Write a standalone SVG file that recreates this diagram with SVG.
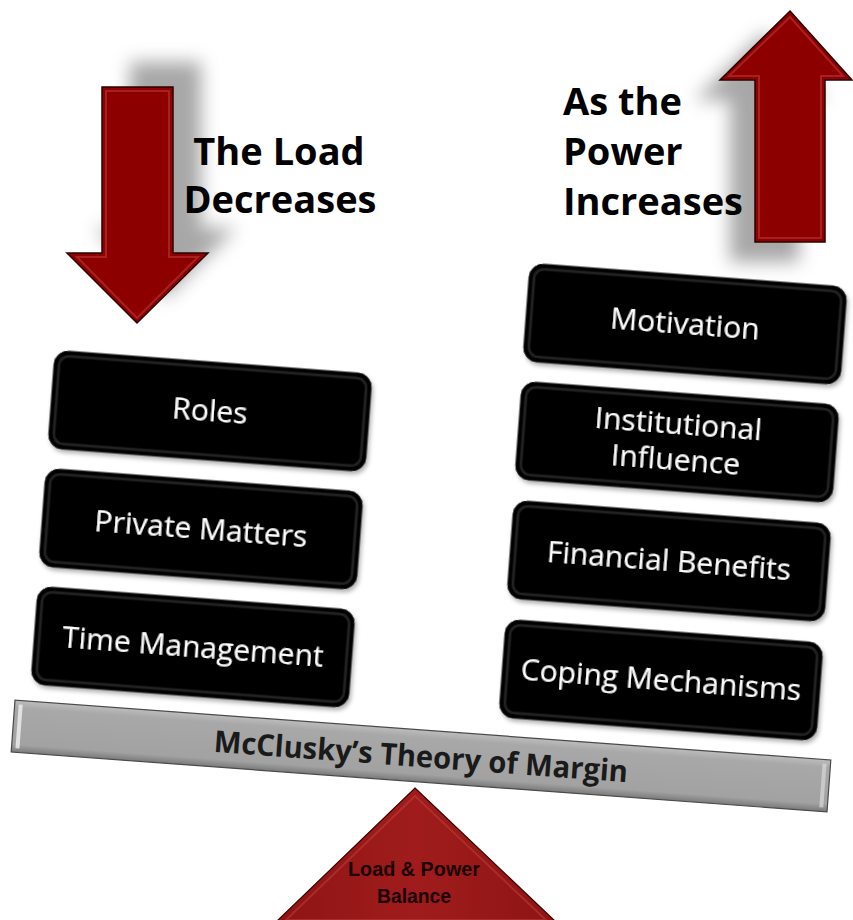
<svg xmlns="http://www.w3.org/2000/svg" width="853" height="920" viewBox="0 0 853 920">
<defs>
<filter id="blur" x="-50%" y="-50%" width="200%" height="200%"><feGaussianBlur stdDeviation="9"/></filter>
<filter id="ds" x="-10%" y="-20%" width="120%" height="150%"><feDropShadow dx="2" dy="3" stdDeviation="2" flood-color="#000" flood-opacity="0.3"/></filter>
<linearGradient id="beamG" x1="0" y1="0" x2="0" y2="1">
<stop offset="0" stop-color="#bdbdbd"/><stop offset="0.15" stop-color="#a8a8a8"/><stop offset="0.85" stop-color="#a2a2a2"/><stop offset="1" stop-color="#7a7a7a"/>
</linearGradient>
<linearGradient id="triG" x1="0" y1="0" x2="1" y2="0">
<stop offset="0" stop-color="#8e1414"/><stop offset="0.5" stop-color="#a01c1c"/><stop offset="1" stop-color="#8e1414"/>
</linearGradient>
</defs>
<style>
.arrow{fill:#8c0000;stroke:#2a0000;stroke-width:1.5;stroke-linejoin:miter}
.arrowHi{fill:none;stroke:#c03a3a;stroke-width:2;opacity:0.55}
.shadow{fill:#8a8a8a;opacity:0.75}
.head{font-family:"Open Sans","Liberation Sans",sans-serif;font-weight:bold;font-size:38px;fill:#000}
.box{fill:#000;stroke:#111;stroke-width:1}
.boxHi{fill:none;stroke:#3c3c3c;stroke-width:2.5;opacity:0.55}
.bt{font-family:"Open Sans","Liberation Sans",sans-serif;font-size:30px;fill:#fff;text-anchor:middle}
.beamT{font-family:"Open Sans","Liberation Sans",sans-serif;font-weight:bold;font-size:30px;fill:#1a1a1a;text-anchor:middle}
.triT{font-family:"Liberation Sans","Open Sans",sans-serif;font-weight:bold;font-size:21px;fill:#1a0000;text-anchor:middle}
</style>
<rect width="853" height="920" fill="#fff"/>

<g id="arrow-down">
<path class="shadow" filter="url(#blur)" d="M130,62 L201,62 L201,228 L236,228 L165,298 L95,228 L130,228 Z"/>
<path class="arrow" d="M102,87 L173,87 L173,253 L208,253 L137,323 L67,253 L102,253 Z"/>
<path class="arrowHi" d="M106,91 L169,91 L169,257 L198,257 L137,318 L77,257 L106,257 Z"/>
</g>
<g id="label-load">
<text class="head" x="279" y="165" text-anchor="middle">The Load</text>
<text class="head" x="280" y="213" text-anchor="middle">Decreases</text>
</g>

<g id="arrow-up">
<path class="shadow" filter="url(#blur)" d="M765,32 L826,100 L799,100 L799,262 L730,262 L730,100 L695,100 Z"/>
<path class="arrow" d="M790,11 L852,80 L825,80 L825,242 L755,242 L755,80 L720,80 Z"/>
<path class="arrowHi" d="M790,17 L843,76 L821,76 L821,238 L759,238 L759,76 L729,76 Z"/>
</g>
<g id="label-power">
<text class="head" x="563" y="115">As the</text>
<text class="head" x="563" y="165">Power</text>
<text class="head" x="563" y="215">Increases</text>
</g>

<g id="node-roles" transform="translate(210,411) rotate(4.3)" filter="url(#ds)">
<rect class="box" x="-159" y="-49" width="318" height="98" rx="14"/>
<rect class="boxHi" x="-154" y="-44" width="308" height="88" rx="10"/>
<text class="bt" x="0" y="10">Roles</text>
</g>
<g id="node-private" transform="translate(201,529) rotate(4.3)" filter="url(#ds)">
<rect class="box" x="-159" y="-49" width="318" height="98" rx="14"/>
<rect class="boxHi" x="-154" y="-44" width="308" height="88" rx="10"/>
<text class="bt" x="0" y="10">Private Matters</text>
</g>
<g id="node-time" transform="translate(193,647) rotate(4.3)" filter="url(#ds)">
<rect class="box" x="-159" y="-49" width="318" height="98" rx="14"/>
<rect class="boxHi" x="-154" y="-44" width="308" height="88" rx="10"/>
<text class="bt" x="0" y="10">Time Management</text>
</g>

<g id="node-motivation" transform="translate(685,324) rotate(4.3)" filter="url(#ds)">
<rect class="box" x="-159" y="-49" width="318" height="98" rx="14"/>
<rect class="boxHi" x="-154" y="-44" width="308" height="88" rx="10"/>
<text class="bt" x="0" y="10">Motivation</text>
</g>
<g id="node-institutional" transform="translate(677,442) rotate(4.3)" filter="url(#ds)">
<rect class="box" x="-159" y="-49" width="318" height="98" rx="14"/>
<rect class="boxHi" x="-154" y="-44" width="308" height="88" rx="10"/>
<text class="bt" x="0" y="-8">Institutional</text>
<text class="bt" x="0" y="28">Influence</text>
</g>
<g id="node-financial" transform="translate(669,561) rotate(4.3)" filter="url(#ds)">
<rect class="box" x="-159" y="-49" width="318" height="98" rx="14"/>
<rect class="boxHi" x="-154" y="-44" width="308" height="88" rx="10"/>
<text class="bt" x="0" y="10">Financial Benefits</text>
</g>
<g id="node-coping" transform="translate(661,680) rotate(4.3)" filter="url(#ds)">
<rect class="box" x="-159" y="-49" width="318" height="98" rx="14"/>
<rect class="boxHi" x="-154" y="-44" width="308" height="88" rx="10"/>
<text class="bt" x="0" y="10">Coping Mechanisms</text>
</g>

<g id="node-beam" transform="translate(421,756) rotate(4.2)">
<rect x="-409" y="-26" width="818" height="52" fill="url(#beamG)" stroke="#4a4a4a" stroke-width="1.2"/>
<rect x="-405" y="-22" width="4" height="44" fill="#f0f0f0" opacity="0.8"/>
<rect x="401" y="-22" width="4" height="44" fill="#d8d8d8" opacity="0.7"/>
<text class="beamT" x="0" y="11" textLength="415" lengthAdjust="spacingAndGlyphs">McClusky’s Theory of Margin</text>
</g>

<g id="node-fulcrum">
<path d="M415,788 L556,922 L276,922 Z" fill="url(#triG)" stroke="#3a0000" stroke-width="1.2"/>
<path d="M415,796 L546,920 L286,920 Z" fill="none" stroke="#c04040" stroke-width="2" opacity="0.5"/>
<text class="triT" x="414" y="876" textLength="132" lengthAdjust="spacingAndGlyphs">Load &amp; Power</text>
<text class="triT" x="414" y="903" textLength="74" lengthAdjust="spacingAndGlyphs">Balance</text>
</g>
</svg>
